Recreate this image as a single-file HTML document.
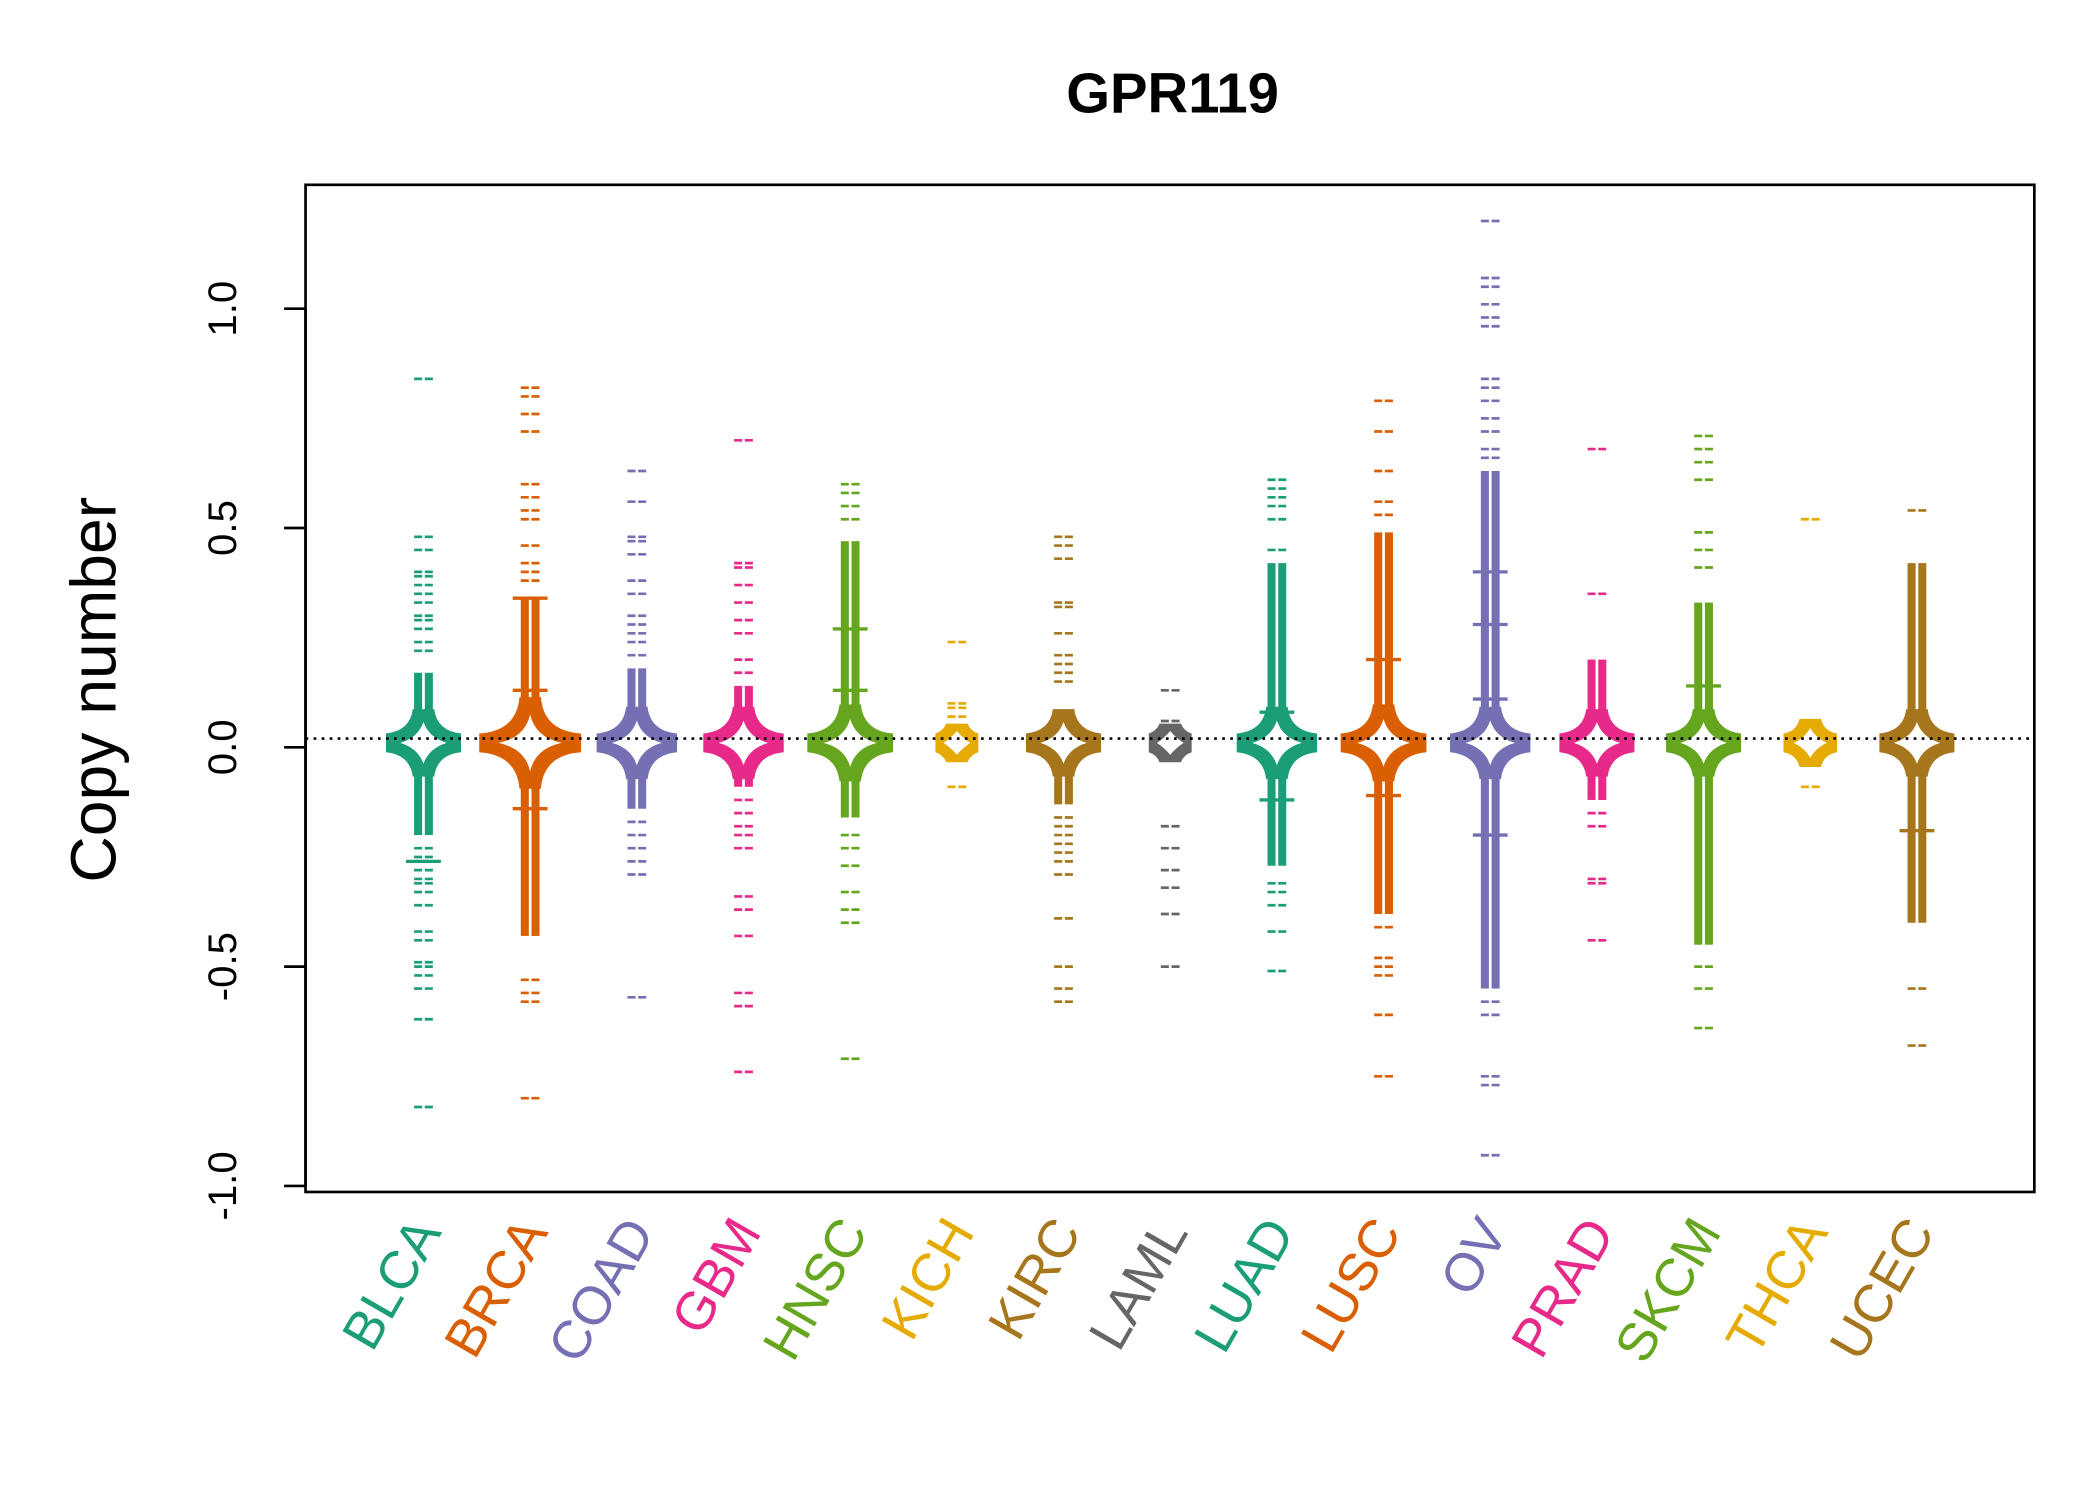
<!DOCTYPE html>
<html><head><meta charset="utf-8"><style>
html,body{margin:0;padding:0;background:#fff;}
svg{display:block;}
text{font-family:"Liberation Sans",sans-serif;}
</style></head><body>
<svg id="chart" width="2100" height="1500" viewBox="0 0 1567 1120" preserveAspectRatio="none" xmlns="http://www.w3.org/2000/svg">
<rect width="1567" height="1120" fill="#fff"/>
<text x="875" y="84" text-anchor="middle" font-size="42" font-weight="bold">GPR119</text>
<g id="plot"></g>
<rect x="228" y="138" width="1290" height="752" fill="none" stroke="#000" stroke-width="2"/>
<text transform="translate(86,515) rotate(-90)" text-anchor="middle" font-size="48">Copy number</text>
<g id="axes"></g>
</svg>
<script>
const categories=["BLCA","BRCA","COAD","GBM","HNSC","KICH","KIRC","LAML","LUAD","LUSC","OV","PRAD","SKCM","THCA","UCEC"];
const colors=["#1B9E77","#D95F02","#7570B3","#E7298A","#66A61E","#E6AB02","#A6761D","#666666","#1B9E77","#D95F02","#7570B3","#E7298A","#66A61E","#E6AB02","#A6761D"];
const denseLo=[-0.20,-0.43,-0.14,-0.09,-0.16,0,-0.13,0,-0.27,-0.38,-0.55,-0.12,-0.45,0,-0.40];
const denseHi=[0.17,0.34,0.18,0.14,0.47,0,0.06,0,0.42,0.49,0.63,0.20,0.33,0,0.42];
const coreW=[28,38,30,30,32,16,28,16,30,32,30,28,28,20,28];
const quantiles=[[-0.26],[0.34,-0.14,0.13],[],[],[0.27,0.13],[],[],[],[-0.12,0.08],[0.20,-0.11],[0.40,0.28,0.11,-0.20,-0.02],[],[0.14],[],[-0.19]];
const outliers=[
[0.84,0.48,0.45,0.40,0.39,0.37,0.35,0.33,0.30,0.29,0.27,0.24,0.22,-0.23,-0.25,-0.28,-0.30,-0.31,-0.33,-0.36,-0.42,-0.44,-0.49,-0.50,-0.52,-0.55,-0.62,-0.82],
[0.82,0.80,0.76,0.72,0.60,0.57,0.54,0.52,0.46,0.42,0.40,0.38,-0.53,-0.56,-0.58,-0.80],
[0.63,0.56,0.48,0.47,0.44,0.38,0.35,0.30,0.28,0.26,0.24,0.21,-0.17,-0.20,-0.23,-0.26,-0.29,-0.57],
[0.70,0.42,0.41,0.37,0.33,0.29,0.26,0.20,0.17,-0.12,-0.15,-0.18,-0.20,-0.23,-0.34,-0.37,-0.43,-0.56,-0.59,-0.74],
[0.60,0.58,0.55,0.52,-0.20,-0.23,-0.27,-0.33,-0.37,-0.40,-0.71],
[0.24,0.10,0.09,0.07,0.05,0.04,-0.01,-0.09],
[0.48,0.46,0.43,0.33,0.32,0.26,0.21,0.19,0.17,0.15,-0.16,-0.18,-0.20,-0.22,-0.24,-0.26,-0.29,-0.39,-0.50,-0.55,-0.58],
[0.13,0.06,-0.02,-0.18,-0.23,-0.28,-0.32,-0.38,-0.50],
[0.61,0.59,0.57,0.55,0.52,0.45,-0.31,-0.33,-0.36,-0.42,-0.51],
[0.79,0.72,0.63,0.56,0.53,-0.41,-0.48,-0.50,-0.52,-0.61,-0.75],
[1.20,1.07,1.05,1.01,0.98,0.96,0.84,0.82,0.79,0.75,0.72,0.68,0.66,-0.58,-0.61,-0.75,-0.77,-0.93],
[0.68,0.35,-0.15,-0.18,-0.30,-0.31,-0.44],
[0.71,0.68,0.65,0.61,0.49,0.45,0.41,-0.50,-0.55,-0.64],
[0.52,0.04,0.03,-0.02,-0.09],
[0.54,-0.55,-0.68]];
const yTicks=[-1.0,-0.5,0.0,0.5,1.0];
const yTickLabels=["-1.0","-0.5","0.0","0.5","1.0"];
const refLine=0.02;
const coreCenter=0.01;

const NS="http://www.w3.org/2000/svg";
const yS=v=>558-v*327.5;
const xS=i=>316+i*79.6;
function mk(tag,attrs,parent){const e=document.createElementNS(NS,tag);for(const k in attrs)e.setAttribute(k,attrs[k]);parent.appendChild(e);return e;}
const plot=document.getElementById('plot');
const axes=document.getElementById('axes');

categories.forEach((c,i)=>{
  const cx=xS(i),col=colors[i];
  const g=mk('g',{},plot);
  
  
  if(denseHi[i]>denseLo[i]){
    const t=yS(denseHi[i]),b=yS(denseLo[i]);
    const r1=mk('rect',{x:cx-7,y:t,width:6,height:b-t,fill:col},g);
    
    
    const r2=mk('rect',{x:cx+1,y:t,width:6,height:b-t,fill:col},g);
    
    
  }
  outliers[i].forEach(v=>{
    const y=yS(v);
    const p=mk('path',{d:`M${cx-7} ${y}H${cx-1}M${cx+1} ${y}H${cx+7}`,stroke:col,'stroke-width':2},g);
    
    
  });
  quantiles[i].forEach(v=>{
    const y=yS(v);
    const q=mk('path',{d:`M${cx-13} ${y}H${cx+13}`,stroke:col,'stroke-width':2.5},g);
    
    
  });
  const y0=yS(coreCenter),W=coreW[i],H=W*0.9;
  const outer=mk('path',{d:`M${cx-W} ${y0-7} Q${cx-10} ${y0-9} ${cx-8} ${y0-H} L${cx+8} ${y0-H} Q${cx+10} ${y0-9} ${cx+W} ${y0-7} L${cx+W} ${y0+7} Q${cx+10} ${y0+9} ${cx+8} ${y0+H} L${cx-8} ${y0+H} Q${cx-10} ${y0+9} ${cx-W} ${y0+7}Z`,fill:col},g);
  
  
  const w=W*0.62,h=H*0.62;
  const inner=mk('path',{d:`M${cx-w} ${y0} Q${cx-4} ${y0-4} ${cx} ${y0-h} Q${cx+4} ${y0-4} ${cx+w} ${y0} Q${cx+4} ${y0+4} ${cx} ${y0+h} Q${cx-4} ${y0+4} ${cx-w} ${y0}Z`,fill:'#fff'},g);
  
  
  const lab=mk('text',{transform:`translate(${cx+14},920) rotate(-60)`,'text-anchor':'end','font-size':40,fill:col},axes);
  lab.textContent=c;
  
  
});
const rl=mk('line',{x1:228,x2:1518,y1:yS(refLine),y2:yS(refLine),stroke:'#000','stroke-width':2,'stroke-dasharray':'2 4'},plot);


const ax=mk('path',{d:`M228 ${yS(-1)}V${yS(1)}`,stroke:'#000','stroke-width':2,fill:'none'},axes);


yTicks.forEach((v,k)=>{
  const y=yS(v);
  const t=mk('line',{x1:212,x2:228,y1:y,y2:y,stroke:'#000','stroke-width':2},axes);
  
  
  const l=mk('text',{transform:`translate(176,${y}) rotate(-90)`,'text-anchor':'middle','font-size':30},axes);
  l.textContent=yTickLabels[k];
  
  
});
</script>
</body></html>
